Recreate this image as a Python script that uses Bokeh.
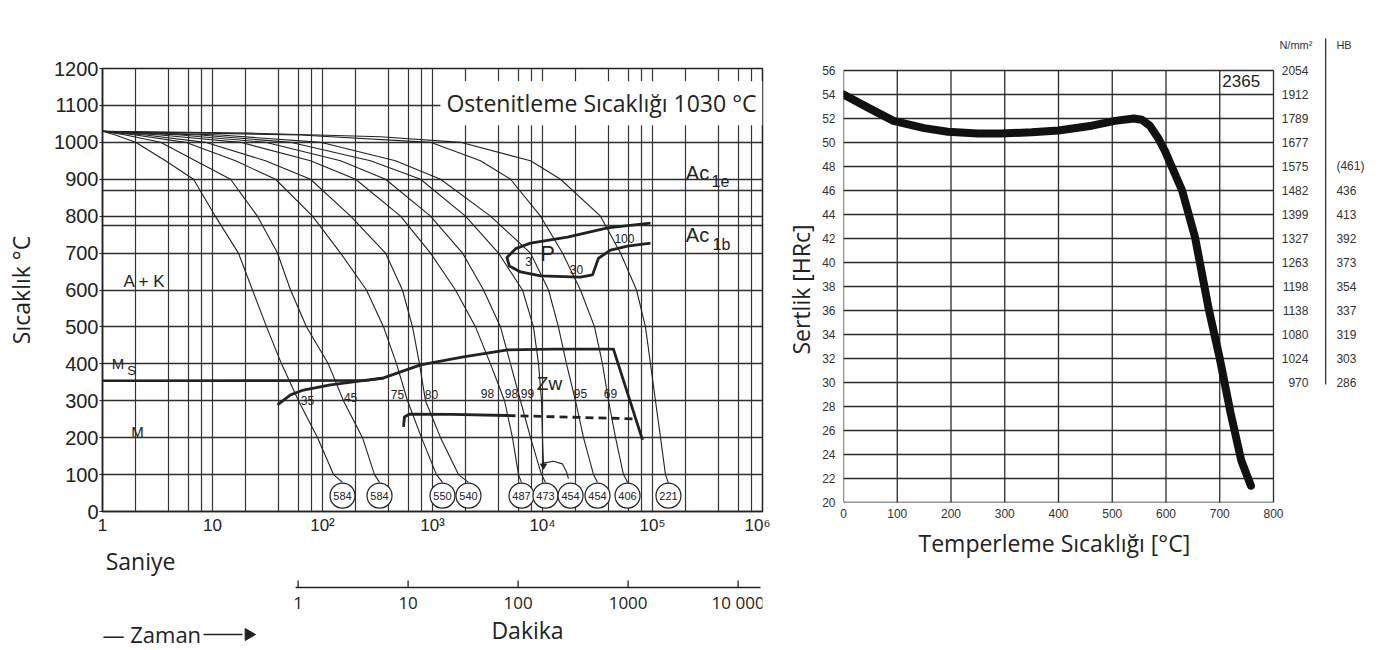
from bokeh.plotting import figure
from bokeh.models import Range1d, FixedTicker, Label, Title
from bokeh.layouts import row, column
from bokeh.embed import file_html
from bokeh.resources import INLINE
from bokeh.core.properties import value

# ------------------------------------------------------------------ data
# CCT diagram (time in seconds, temperature in C)
sec_ticks = [1, 10, 100, 1000, 10000, 100000, 1000000]
sec_labels = ["1", "10", "10²", "10³", "10⁴", "10⁵", "10⁶"]
sec_grid = [1, 2, 4, 6, 8, 10, 20, 40, 60, 80, 100, 200, 400, 600, 800,
            1000, 2000, 4000, 6000, 8000, 10000, 20000, 40000, 60000, 80000,
            100000, 200000, 400000, 600000, 800000, 1000000]
temp_ticks = [0, 100, 200, 300, 400, 500, 600, 700, 800, 900, 1000, 1100, 1200]
temp_grid = temp_ticks + [775, 870]
min_ticks = [1, 10, 100, 1000, 10000]
min_labels = ["1", "10", "100", "1000", "10 000"]

curve_T = [
    [1030, 1020, 1000, 950, 900, 800, 700, 600, 500, 400, 300, 200, 100, 79],
    [1030, 1020, 1000, 950, 900, 800, 700, 600, 500, 400, 300, 200, 100, 79],
    [1030, 1020, 1000, 950, 900, 800, 700, 600, 500, 400, 300, 200, 100, 79],
    [1030, 1020, 1000, 950, 900, 800, 700, 600, 500, 400, 300, 200, 100, 79],
    [1030, 1020, 1000, 950, 900, 800, 700, 600, 500, 400, 300, 200, 100, 79],
    [1030, 1020, 1000, 950, 900, 800, 700, 600, 500, 400, 300, 200, 100, 79],
    [1030, 1020, 1000, 950, 900, 800, 700, 600, 500, 400, 300, 200, 128],
    [1030, 1020, 1000, 950, 900, 800, 700, 600, 500, 400, 300, 200, 100, 79],
    [1030, 1020, 1000, 950, 900, 800, 700, 600, 500, 400, 300, 200, 100, 79],
    [1030, 1025, 1015, 1000, 950, 900, 800, 700, 600, 500, 400, 300, 200, 100, 76],
]
curve_t = [
    [1, 1.31, 2.0, 3.74, 6.72, 10.6, 17.2, 23.1, 31.0, 42.4, 60.5, 90.2, 126, 152],
    [1, 1.62, 3.37, 7.0, 14.6, 25.6, 39.0, 51.2, 71.6, 113, 155, 231, 297, 330],
    [1, 2.0, 5.69, 16.2, 37.4, 81.1, 146, 251, 359, 471, 593, 794, 1087, 1233],
    [1, 2.46, 8.63, 30.3, 77.8, 180, 374, 533, 658, 762, 863, 1183, 1722, 2123],
    [1, 3.37, 18.0, 77.8, 200, 512, 959, 1618, 2460, 3365, 4518, 5333, 6050, 6442],
    [1, 5.12, 30.3, 146, 374, 959, 1875, 2911, 4150, 5117, 6310, 7780, 9795, 10640],
    [1, 7.78, 51.2, 273, 778, 1995, 3981, 6577, 8279, 9204, 9795, 10000, 10210],
    [1, 11.8, 95.9, 461, 1183, 3365, 7780, 11350, 13960, 16520, 19950, 23600, 29100, 31620],
    [1, 63.1, 959, 2729, 5117, 9594, 15200, 22130, 29720, 35090, 39810, 46130, 54450, 59290],
    [1, 22.1, 336, 1799, 7780, 14590, 33650, 51170, 71610, 86300, 95940, 106400, 118300, 131200, 139700],
]
end_hardness = ["584", "584", "550", "540", "487", "473", "454", "454", "406", "221"]
end_t = [152, 330, 1233, 2123, 6442, 10640, 17990, 31620, 59290, 139700]
end_T = [43, 43, 43, 43, 43, 43, 43, 43, 43, 43]

bainite_pct = ["35", "45", "75", "80", "98", "98", "99", "95", "69"]
bainite_pct_t = [73.1, 180, 481, 979, 3162, 5224, 7310, 22130, 41500]
bainite_pct_T = [302, 310, 317, 317, 319, 319, 319, 319, 319]

ms_t = [1, 250, 360]
ms_T = [354, 355, 361]
bainite_start_t = [39, 51.2, 67.2, 118, 191, 359, 778, 1914, 4808, 12590, 44160, 81100]
bainite_start_T = [289, 316, 329, 343, 351, 362, 397, 419, 438, 440, 440, 194]
bainite_end_t = [545, 556, 620, 1500, 4808]
bainite_end_T = [229, 256, 264, 263, 260]
bainite_end_dash_t = [4808, 67140]
bainite_end_dash_T = [260, 251]
pearlite_t = [95940, 39000, 16870, 7780, 5700, 4750, 5000, 6310, 9594, 22130, 28500,
              32280, 41500, 59290, 95940]
pearlite_T = [781, 768, 743, 727, 712, 688, 665, 649, 638, 635, 641, 686, 708, 719, 727]
pearlite_pct = ["3", "30", "100"]
pearlite_pct_t = [7460, 20370, 55600]
pearlite_pct_T = [678, 656, 740]
arrow_arc_t = [10210, 12590, 15200, 16520, 17220]
arrow_arc_T = [131, 136, 129, 108, 89]

# Tempering diagram
temper_ticks = [0, 100, 200, 300, 400, 500, 600, 700, 800]
hrc_ticks = [20, 22, 24, 26, 28, 30, 32, 34, 36, 38, 40, 42, 44, 46, 48, 50, 52, 54, 56]
temper_x = [0, 50, 93, 150, 194, 250, 294, 350, 400, 462, 505, 540, 555, 570, 585,
            598, 630, 654, 680, 700, 720, 740, 758]
temper_hrc = [54.0, 52.8, 51.8, 51.2, 50.9, 50.75, 50.75, 50.85, 51.0, 51.4, 51.8, 52.0,
              51.9, 51.4, 50.4, 49.3, 46.0, 42.1, 36.0, 32.0, 27.5, 23.5, 21.4]
nmm_hrc = [56, 54, 52, 50, 48, 46, 44, 42, 40, 38, 36, 34, 32, 30]
nmm_vals = ["2054", "1912", "1789", "1677", "1575", "1482", "1399", "1327", "1263",
            "1198", "1138", "1080", "1024", "970"]
hb_hrc = [48, 46, 44, 42, 40, 38, 36, 34, 32, 30]
hb_vals = ["(461)", "436", "413", "392", "373", "354", "337", "319", "303", "286"]

# ------------------------------------------------------------------ style
INK = "#222222"
NUM_FONT = "Liberation Sans"
TXT_FONT = "Open Sans"


def txt(p, x, y, s, size, font=NUM_FONT, align="center", baseline="middle", color=INK):
    p.text(x=[x], y=[y], text=[s], text_font=value(font), text_font_size=value(size),
           text_align=align, text_baseline=baseline, text_color=color)


# ------------------------------------------------------------------ CCT plot
p1 = figure(x_axis_type="log", x_range=Range1d(1, 1000000), y_range=Range1d(0, 1200),
            frame_width=660, frame_height=443, min_border_left=102, min_border_right=8,
            min_border_top=68, min_border_bottom=34, output_backend="svg",
            toolbar_location=None, background_fill_color="white")
p1.outline_line_color = INK
p1.outline_line_width = 1.5
p1.xaxis.ticker = FixedTicker(ticks=sec_ticks)
p1.xaxis.major_label_overrides = dict(zip(sec_ticks, sec_labels))
p1.xaxis.major_label_text_font = NUM_FONT
p1.xaxis.major_label_text_font_size = "17px"
p1.xaxis.major_label_text_color = INK
p1.xaxis.major_tick_out = 0
p1.xaxis.major_tick_in = 0
p1.xaxis.major_label_standoff = 4
p1.xaxis.major_tick_line_color = None
p1.xaxis.minor_tick_line_color = None
p1.xaxis.axis_line_color = INK
p1.xaxis.axis_line_width = 1.5
p1.yaxis.ticker = FixedTicker(ticks=temp_ticks)
p1.yaxis.major_label_text_font = NUM_FONT
p1.yaxis.major_label_text_font_size = "20px"
p1.yaxis.major_label_text_color = INK
p1.yaxis.major_tick_out = 3
p1.yaxis.major_tick_in = 0
p1.yaxis.major_tick_line_color = INK
p1.yaxis.major_label_standoff = 1
p1.yaxis.minor_tick_line_color = None
p1.yaxis.axis_line_color = INK
p1.yaxis.axis_line_width = 1.5
p1.yaxis.axis_label = "Sıcaklık °C"
p1.yaxis.axis_label_text_font = TXT_FONT
p1.yaxis.axis_label_text_font_size = "23px"
p1.yaxis.axis_label_text_font_style = "normal"
p1.yaxis.axis_label_text_color = INK
p1.yaxis.axis_label_standoff = 14
p1.xgrid.ticker = FixedTicker(ticks=sec_grid)
p1.ygrid.ticker = FixedTicker(ticks=temp_grid)
p1.xgrid.grid_line_color = "#333333"
p1.xgrid.grid_line_width = 1.2
p1.ygrid.grid_line_color = "#2e2e2e"
p1.ygrid.grid_line_width = 1.4

title = Label(x=1180, y=1106, text="Ostenitleme Sıcaklığı 1030 °C", text_font=TXT_FONT,
              text_font_size="23px", text_color=INK, text_baseline="middle",
              background_fill_color="white", padding=6)
p1.add_layout(title)

for ts, Ts in zip(curve_t, curve_T):
    p1.line(ts, Ts, line_color=INK, line_width=1.1, line_join="round")
p1.line(arrow_arc_t, arrow_arc_T, line_color=INK, line_width=1.1)
p1.scatter([curve_t[6][-1]], [curve_T[6][-1] - 4], marker="inverted_triangle", size=6,
           color=INK)

p1.line(ms_t, ms_T, line_color=INK, line_width=2.6)
p1.line(bainite_start_t, bainite_start_T, line_color=INK, line_width=2.8,
        line_join="round")
p1.line(bainite_end_t, bainite_end_T, line_color=INK, line_width=2.8, line_join="round")
p1.line(bainite_end_dash_t, bainite_end_dash_T, line_color=INK, line_width=2.8,
        line_dash="8 5")
p1.line(pearlite_t, pearlite_T, line_color=INK, line_width=2.8, line_join="round")

p1.scatter(end_t, end_T, marker="circle", size=25, fill_color="white", line_color=INK,
           line_width=1.2)
p1.text(end_t, end_T, text=end_hardness, text_font=value(NUM_FONT),
        text_font_size=value("11px"), text_align="center", text_baseline="middle",
        text_color=INK)
p1.text(bainite_pct_t, bainite_pct_T, text=bainite_pct, text_font=value(NUM_FONT),
        text_font_size=value("12px"), text_align="center", text_baseline="middle",
        text_color=INK)
p1.text(pearlite_pct_t, pearlite_pct_T, text=pearlite_pct, text_font=value(NUM_FONT),
        text_font_size=value("12px"), text_align="center", text_baseline="middle",
        text_color=INK)

txt(p1, 2.41, 624, "A + K", "17px")
txt(p1, 1.38, 402, "M", "15px")
txt(p1, 1.84, 383, "S", "13px")
txt(p1, 2.08, 216, "M", "15px")
txt(p1, 11580, 348, "Zw", "19px")
txt(p1, 11100, 700, "P", "22px")
txt(p1, 256500, 916, "Ac", "20px")
txt(p1, 415000, 894, "1e", "16px")
txt(p1, 256500, 749, "Ac", "20px")
txt(p1, 424000, 724, "1b", "16px")

# ------------------------------------------------------------------ time scales (below CCT)
p2 = figure(x_axis_type="log", x_range=p1.x_range, y_range=Range1d(649, 545),
            frame_width=660, frame_height=104, min_border_left=102, min_border_right=8,
            min_border_top=0, min_border_bottom=0, x_axis_location=None,
            y_axis_location=None, output_backend="svg", toolbar_location=None)
p2.outline_line_color = None
p2.grid.visible = False

txt(p2, 1.07, 560, "Saniye", "23px", font=TXT_FONT, align="left")
min_sec = [m * 60 for m in min_ticks]
p2.line([min_sec[0] * 0.95, 16000 * 60], [587, 587], line_color=INK, line_width=1.3)
p2.segment(x0=min_sec, y0=[587] * len(min_sec), x1=min_sec, y1=[580] * len(min_sec),
           line_color=INK, line_width=1.3)
p2.text(min_sec, [602] * len(min_sec), text=min_labels, text_font=value(TXT_FONT),
        text_font_size=value("17px"), text_align="center", text_baseline="middle",
        text_color=INK)
txt(p2, 7310, 629, "Dakika", "23px", font=TXT_FONT)
txt(p2, 1.0, 633, "— Zaman", "22px", font=TXT_FONT, align="left")
p2.line([8.3, 18.7], [634, 634], line_color=INK, line_width=1.6)
p2.scatter([21.3], [634], marker="triangle", angle=-90, angle_units="deg", size=12,
           color=INK)

# ------------------------------------------------------------------ tempering plot + table
p3 = figure(x_range=Range1d(0, 986.05), y_range=Range1d(20, 59.333), frame_width=530,
            frame_height=472, min_border_left=73, min_border_right=0, min_border_top=30,
            min_border_bottom=70, output_backend="svg", toolbar_location=None)
p3.outline_line_color = None
p3.grid.visible = False
for ax in (p3.xaxis, p3.yaxis):
    ax.axis_line_color = None
    ax.major_tick_line_color = None
    ax.minor_tick_line_color = None
    ax.major_tick_out = 0
    ax.major_tick_in = 0
    ax.major_label_text_font = NUM_FONT
    ax.major_label_text_font_size = "12px"
    ax.major_label_text_color = "#333333"
p3.xaxis.ticker = FixedTicker(ticks=temper_ticks)
p3.yaxis.ticker = FixedTicker(ticks=hrc_ticks)
p3.xaxis.major_label_standoff = 6
p3.yaxis.major_label_standoff = 8
p3.add_layout(Title(text="Sertlik [HRc]", align="left", offset=148, standoff=6,
                    text_font=TXT_FONT, text_font_size="23px", text_font_style="normal",
                    text_color=INK), "left")
p3.add_layout(Title(text="Temperleme Sıcaklığı [°C]", align="left", offset=75,
                    standoff=8, text_font=TXT_FONT, text_font_size="23px",
                    text_font_style="normal", text_color=INK), "below")

p3.segment(x0=temper_ticks, y0=[hrc_ticks[0]] * len(temper_ticks), x1=temper_ticks,
           y1=[hrc_ticks[-1]] * len(temper_ticks), line_color="#2a2a2a", line_width=1.3)
p3.segment(x0=[temper_ticks[0]] * len(hrc_ticks), y0=hrc_ticks,
           x1=[temper_ticks[-1]] * len(hrc_ticks), y1=hrc_ticks, line_color="#2a2a2a",
           line_width=1.3)
p3.line(temper_x, temper_hrc, line_color="#111111", line_width=8, line_cap="round",
        line_join="round")
txt(p3, 740, 55.1, "2365", "17px")

p3.text([865] * len(nmm_vals), nmm_hrc, text=nmm_vals, text_font=value(NUM_FONT),
        text_font_size=value("12px"), text_align="right", text_baseline="middle",
        text_color="#333333")
p3.text([917] * len(hb_vals), hb_hrc, text=hb_vals, text_font=value(NUM_FONT),
        text_font_size=value("12px"), text_align="left", text_baseline="middle",
        text_color="#333333")
txt(p3, 811, 58.1, "N/mm²", "11px", align="left", color="#333333")
txt(p3, 917, 58.1, "HB", "11px", align="left", color="#333333")
p3.line([897, 897], [58.67, 29.83], line_color="#333333", line_width=1.3)

layout = row(column(p1, p2), p3)
open("out.html", "w").write(file_html(layout, INLINE))
